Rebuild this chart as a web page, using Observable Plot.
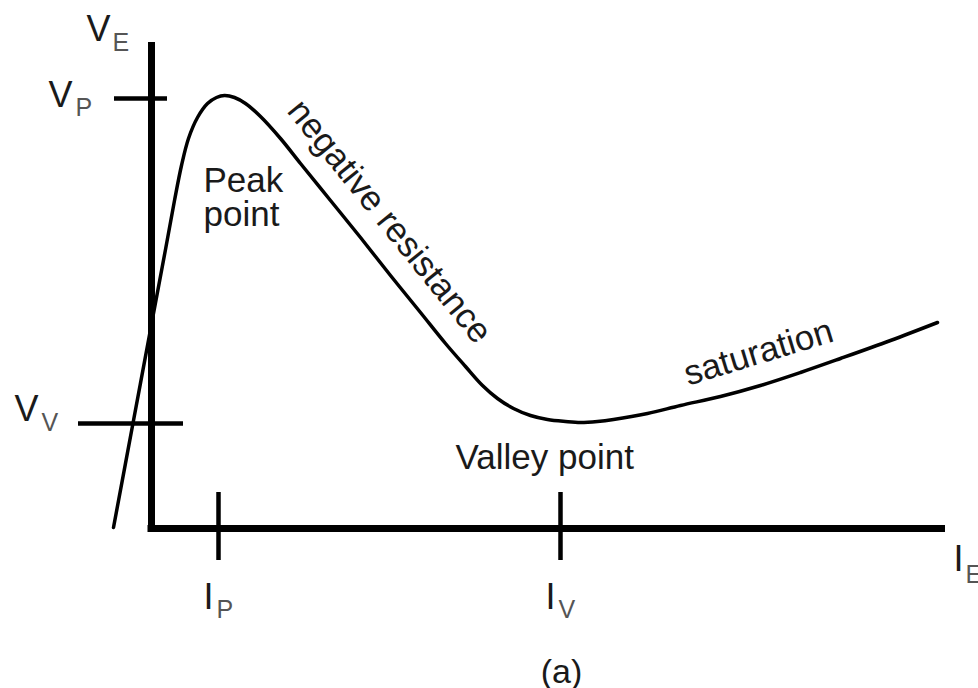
<!DOCTYPE html>
<html>
<head>
<meta charset="utf-8">
<script src="https://cdn.jsdelivr.net/npm/d3@7"></script>
<script src="https://cdn.jsdelivr.net/npm/@observablehq/plot@0.6"></script>
<style>
  html, body { margin: 0; padding: 0; background: #fff; }
  #chart svg { display: block; }
</style>
</head>
<body>
<div id="chart"></div>
<script>
// UJT emitter characteristic (arbitrary units: emitter current I_E, emitter voltage V_E)
const curveCurrent = [-3.8, -1.8, 0.2, 1.4, 2.3, 3.0, 3.7, 4.6, 5.6, 6.5, 7.3, 8.3, 9.4, 10.9, 12.9, 14.9, 17.9, 20.9, 23.9, 26.9, 29.4, 31.4, 33.1, 34.6, 36.2, 37.9, 39.6, 41.4, 42.9, 44.6, 46.2, 49.6, 52.9, 56.9, 60.9, 64.9, 68.9, 73.9, 78.6];
const curveVoltage = [0.1, 10.8, 21.5, 27.9, 32.8, 36.3, 39.0, 41.1, 42.5, 43.1, 43.3, 43.1, 42.5, 41.2, 39.0, 36.5, 32.8, 29.1, 25.3, 21.6, 18.5, 16.2, 14.3, 13.0, 12.0, 11.3, 10.9, 10.7, 10.6, 10.7, 10.9, 11.5, 12.3, 13.2, 14.3, 15.6, 17.0, 18.8, 20.6];

// axis extents
const axisCurrentMax = 79.4;
const axisVoltageMax = 48.6;

// tick values and their names
const voltageTicks = [43.0, 10.5];
const voltageTickNames = ["P", "V"];
const currentTicks = [6.7, 40.9];
const currentTickNames = ["P", "V"];

// annotation texts
const annotationTexts = ["Peak\npoint", "Valley point"];
const annotationCurrent = [5.2, 30.4];
const annotationVoltage = [30.3, 6.0];
const slopeTexts = ["negative resistance", "saturation"];
const slopeCurrent = [23.8, 60.7];
const slopeVoltage = [30.7, 17.6];
const slopeAngles = [51, -17];
const captionText = "(a)";

const curve = curveCurrent.map((x, i) => ({x, y: curveVoltage[i]}));
const vTicks = voltageTicks.map((v, i) => ({v, name: voltageTickNames[i], i}));
const iTicks = currentTicks.map((v, i) => ({v, name: currentTickNames[i]}));

const font = "'Liberation Sans', Arial, Helvetica, sans-serif";
const ink = "#1a1a1a";
const subInk = "#555";

// tick extents (data units) relative to the axes
const vTickLeft = [-3.7, -7.3];
const vTickRight = [1.6, 3.2];
const vLabelDx = [-79, -113];
const vLabelDy = [8, -3];
const vSubDy = [17, 7];

const chart = Plot.plot({
  width: 978,
  height: 688,
  margin: 0,
  x: {domain: [-15.1, 82.7], axis: null},
  y: {domain: [-16.0, 52.8], axis: null},
  style: {fontFamily: font, background: "#fff"},
  marks: [
    // axes
    Plot.ruleX([0], {y1: -0.35, y2: axisVoltageMax, stroke: "#000", strokeWidth: 7}),
    Plot.ruleY([0], {x1: -0.35, x2: axisCurrentMax, stroke: "#000", strokeWidth: 7}),
    // voltage ticks
    Plot.ruleY(vTicks, {y: "v", x1: d => vTickLeft[d.i], x2: d => vTickRight[d.i], stroke: "#000", strokeWidth: 4.5}),
    // current ticks
    Plot.ruleX(iTicks, {x: "v", y1: -3.2, y2: 3.6, stroke: "#000", strokeWidth: 4.5}),
    // characteristic curve
    Plot.line(curve, {x: "x", y: "y", curve: "catmull-rom", stroke: "#000", strokeWidth: 3.5}),
    // voltage tick labels
    ...vTicks.map(d => Plot.text([d], {x: 0, y: "v", text: () => "V", textAnchor: "end", lineAnchor: "bottom", dx: vLabelDx[d.i], dy: vLabelDy[d.i], fontSize: 36, fill: ink})),
    ...vTicks.map(d => Plot.text([d], {x: 0, y: "v", text: "name", textAnchor: "start", lineAnchor: "bottom", dx: vLabelDx[d.i] + 3, dy: vSubDy[d.i], fontSize: 25, fill: subInk})),
    // current tick labels
    Plot.text(iTicks, {x: "v", y: 0, text: () => "I", textAnchor: "end", lineAnchor: "bottom", dx: -5, dy: 80, fontSize: 36, fill: ink}),
    Plot.text(iTicks, {x: "v", y: 0, text: "name", textAnchor: "start", lineAnchor: "bottom", dx: -2, dy: 89, fontSize: 25, fill: subInk}),
    // axis titles
    Plot.text([0], {x: 0, y: axisVoltageMax, text: () => "V", textAnchor: "end", lineAnchor: "bottom", dx: -41, dy: -2, fontSize: 36, fill: ink}),
    Plot.text([0], {x: 0, y: axisVoltageMax, text: () => "E", textAnchor: "start", lineAnchor: "bottom", dx: -39, dy: 8, fontSize: 25, fill: subInk}),
    Plot.text([0], {x: axisCurrentMax, y: 0, text: () => "I", textAnchor: "end", lineAnchor: "bottom", dx: 18, dy: 42, fontSize: 36, fill: ink}),
    Plot.text([0], {x: axisCurrentMax, y: 0, text: () => "E", textAnchor: "start", lineAnchor: "bottom", dx: 20, dy: 54, fontSize: 25, fill: subInk}),
    // annotations
    Plot.text(annotationTexts, {x: (d, i) => annotationCurrent[i], y: (d, i) => annotationVoltage[i], text: d => d, textAnchor: "start", lineAnchor: "bottom", lineHeight: 0.96, fontSize: 35, fill: ink}),
    ...slopeTexts.map((t, i) => Plot.text([t], {x: () => slopeCurrent[i], y: () => slopeVoltage[i], text: d => d, rotate: slopeAngles[i], textAnchor: "middle", lineAnchor: "middle", fontSize: 35, fill: ink})),
    // caption
    Plot.text([captionText], {x: () => currentTicks[1] + 0.1, y: -15.4, text: d => d, textAnchor: "middle", lineAnchor: "bottom", fontSize: 34, fill: ink})
  ]
});
document.getElementById("chart").appendChild(chart);
</script>
</body>
</html>
